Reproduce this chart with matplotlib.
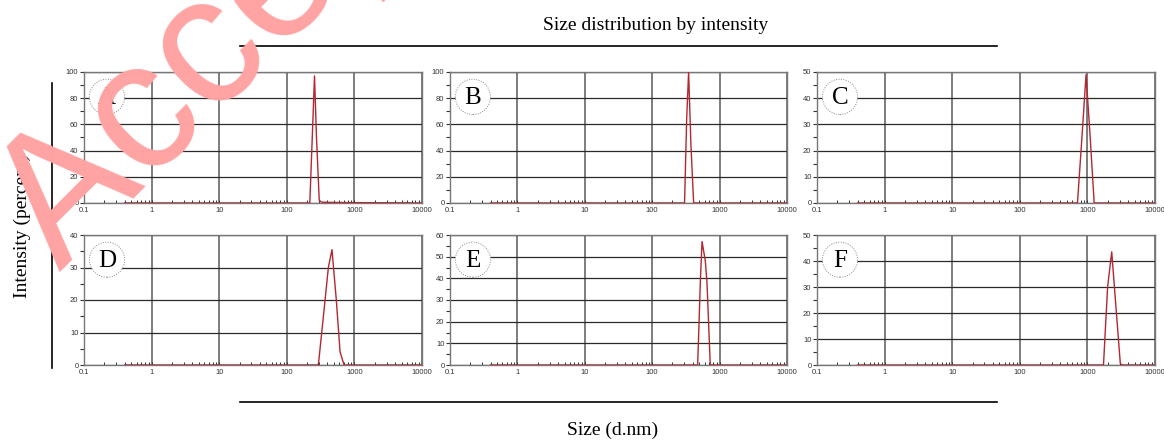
import numpy as np
import matplotlib.pyplot as plt
from matplotlib.lines import Line2D
from matplotlib.patches import Ellipse

# size (d.nm) and intensity (%)
a_size = [0.4, 200, 219, 240, 257, 275, 302, 330, 500, 1000, 10000]
a_int = [0, 0, 0, 55, 97, 50, 2, 0.6, 0.4, 0.3, 0]
b_size = [0.4, 295, 302, 325, 347, 375, 412, 10000]
b_int = [0, 0, 0, 65, 100, 45, 0, 0]
c_size = [0.4, 700, 713, 830, 955, 1100, 1260, 10000]
c_int = [0, 0, 0, 25, 49, 25, 0, 0]
d_size = [0.4, 285, 293, 360, 412, 466, 540, 614, 704, 10000]
d_int = [0, 0, 0, 18, 30, 35.5, 20, 4, 0, 0]
e_size = [0.4, 465, 473, 520, 549, 614, 650, 727, 10000]
e_int = [0, 0, 0, 40, 57, 48, 38, 0, 0]
f_size = [0.4, 1700, 1730, 1990, 2290, 2650, 3070, 3300, 10000]
f_int = [0, 0, 0, 30, 43.5, 22, 0.5, 0, 0]

labels = ['A', 'B', 'C', 'D', 'E', 'F']
y_max = [100, 100, 50, 40, 60, 50]
y_step = [20, 20, 10, 10, 10, 10]
x_ticks = [0.1, 1, 10, 100, 1000, 10000]
x_tick_labels = ['0.1', '1', '10', '100', '1000', '10000']

sizes = [a_size, b_size, c_size, d_size, e_size, f_size]
ints = [a_int, b_int, c_int, d_int, e_int, f_int]

W, H = 1164, 442
fig = plt.figure(figsize=(W / 100, H / 100), dpi=100)

cols = [(84, 422), (450, 787), (817, 1155)]
rows = [(72, 203), (235, 365)]

def px_axes(x0, x1, y0, y1):
    return fig.add_axes([x0 / W, 1 - y1 / H, (x1 - x0) / W, (y1 - y0) / H])

for i in range(6):
    r, c = divmod(i, 3)
    ax = px_axes(cols[c][0], cols[c][1], rows[r][0], rows[r][1])
    ax.set_xscale('log')
    ax.set_xlim(0.1, 10000)
    ax.set_ylim(0, y_max[i])
    ax.plot(sizes[i], ints[i], color='#b52630', lw=1.0, zorder=3)

    ax.set_xticks(x_ticks, x_tick_labels)
    yt = np.arange(0, y_max[i] + 1, y_step[i])
    ax.set_yticks(yt, [str(int(v)) for v in yt])
    ax.set_yticks(np.arange(y_step[i] / 2, y_max[i], y_step[i]), minor=True)
    ax.tick_params(axis='y', which='major', direction='out', length=3, width=0.8,
                   labelsize=5.5, pad=1, colors='#333333')
    ax.tick_params(axis='y', which='minor', direction='out', length=3, width=0.8, colors='#333333')
    ax.tick_params(axis='x', which='both', direction='in', length=2.5, width=0.7,
                   labelsize=5.5, pad=3, colors='#333333')
    for lab in ax.get_xticklabels() + ax.get_yticklabels():
        lab.set_fontfamily('Liberation Sans')

    ax.grid(True, which='major', axis='x', color='#5a5a5a', lw=1.1)
    ax.grid(True, which='major', axis='y', color='#2a2a2a', lw=0.9)
    for s in ax.spines.values():
        s.set_color('#777777')
        s.set_linewidth(1.0)

    ax.add_patch(Ellipse((0.068, 0.81), 0.104, 0.27, transform=ax.transAxes,
                         facecolor='white', edgecolor='#888888', ls=(0, (1, 1.5)),
                         lw=0.7, zorder=4))
    ax.text(0.068, 0.80, labels[i], transform=ax.transAxes, ha='center', va='center',
            fontsize=18, family='Liberation Serif', zorder=5)

serif = 'Liberation Serif'
fig.text(656 / W, 1 - 25 / H, 'Size distribution by intensity', ha='center', va='center',
         fontsize=14, family=serif)
fig.text(613 / W, 1 - 430 / H, 'Size (d.nm)', ha='center', va='center',
         fontsize=14, family=serif)
fig.text(22 / W, 1 - 226 / H, 'Intensity (percent)', ha='center', va='center',
         rotation=90, fontsize=14, family=serif)

fig.add_artist(Line2D([240 / W, 997 / W], [1 - 46 / H, 1 - 46 / H], color='black', lw=1.2))
fig.add_artist(Line2D([240 / W, 997 / W], [1 - 402 / H, 1 - 402 / H], color='black', lw=1.2))
fig.add_artist(Line2D([52 / W, 52 / W], [1 - 83 / H, 1 - 368 / H], color='black', lw=1.2))

# journal watermark, cut by the page edge as in the source
fig.text(60 / W, 1 - 272 / H, 'Accepted Manuscript', ha='left', va='baseline',
         rotation=45, rotation_mode='anchor', fontsize=132, family='Liberation Sans',
         color='#ffa3a3', zorder=10)

fig.savefig('out.png', dpi=100)
